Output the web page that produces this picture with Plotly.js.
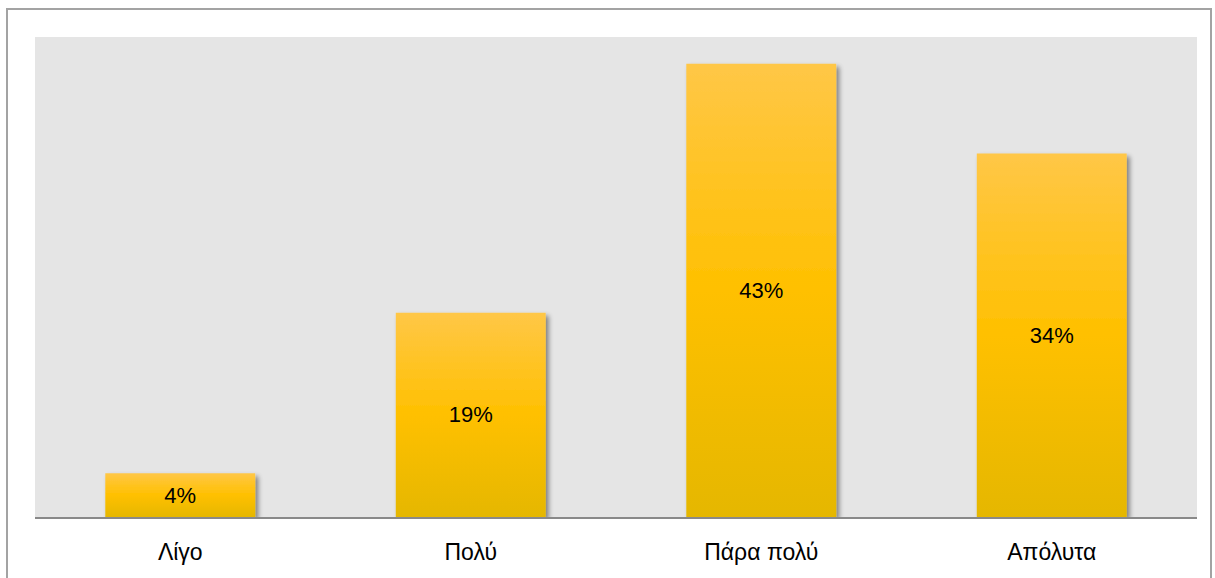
<!DOCTYPE html>
<html><head><meta charset="utf-8">
<script src="https://cdn.plot.ly/plotly-3.0.1.min.js"></script>
<style>
html,body{margin:0;padding:0;background:#fff;}
#wrap{position:relative;width:1215px;height:578px;overflow:hidden;}
#chart{position:absolute;left:0;top:0;width:1215px;height:578px;}
#border{position:absolute;left:6px;top:8px;width:1206px;height:600px;border:2px solid #a3a3a3;pointer-events:none;box-sizing:border-box;}
</style></head>
<body><div id="wrap"><div id="chart"></div><div id="border"></div></div>
<script>
const categories = ["Λίγο", "Πολύ", "Πάρα πολύ", "Απόλυτα"];
const values = [4.1, 19.1, 42.4, 34];
const labels = ["4%", "19%", "43%", "34%"];

const trace = {
  type: "bar", x: categories, y: values, text: labels,
  textposition: "inside", insidetextanchor: "middle", textangle: 0,
  textfont: {family: "Liberation Sans, Arial, sans-serif", size: 22, color: "#000"},
  marker: {color: "#ffc000", line: {width: 0}},
  hoverinfo: "none", cliponaxis: false
};
const layout = {
  width: 1215, height: 578,
  margin: {l: 35, r: 18, t: 37, b: 61, pad: 0},
  paper_bgcolor: "rgba(0,0,0,0)", plot_bgcolor: "#e5e5e5",
  bargap: 0.484, showlegend: false,
  xaxis: {showline: true, linecolor: "#898989", linewidth: 2, ticks: "", showgrid: false,
    tickfont: {family: "Liberation Sans, Arial, sans-serif", size: 23, color: "#000"}, ticklabelstandoff: 13},
  yaxis: {range: [0, 44.9], visible: false, showgrid: false, zeroline: false, fixedrange: true}
};
Plotly.newPlot("chart", [trace], layout, {displayModeBar: false, staticPlot: true}).then(gd => {
  const svg = gd.querySelector("svg.main-svg");
  const ns = "http://www.w3.org/2000/svg";
  let defs = svg.querySelector("defs");
  const g = document.createElementNS(ns, "linearGradient");
  g.setAttribute("id", "barGrad"); g.setAttribute("x1", "0"); g.setAttribute("y1", "0");
  g.setAttribute("x2", "0"); g.setAttribute("y2", "1");
  [["0", "#ffc747"], ["0.5", "#ffc000"], ["1", "#e5b700"]].forEach(([o, c]) => {
    const s = document.createElementNS(ns, "stop"); s.setAttribute("offset", o); s.setAttribute("stop-color", c); g.appendChild(s);
  });
  defs.appendChild(g);
  const f = document.createElementNS(ns, "filter");
  f.setAttribute("id", "barShadow"); f.setAttribute("x", "-10%"); f.setAttribute("y", "-10%");
  f.setAttribute("width", "130%"); f.setAttribute("height", "130%");
  f.innerHTML = '<feGaussianBlur in="SourceAlpha" stdDeviation="2.5"/><feOffset dx="3" dy="3" result="o"/>' +
    '<feComponentTransfer><feFuncA type="linear" slope="0.45"/></feComponentTransfer>' +
    '<feMerge><feMergeNode/><feMergeNode in="SourceGraphic"/></feMerge>';
  defs.appendChild(f);
  gd.querySelectorAll(".trace.bars .point path").forEach(p => {
    p.style.fill = "url(#barGrad)";
    p.setAttribute("filter", "url(#barShadow)");
  });
});
</script></body></html>
